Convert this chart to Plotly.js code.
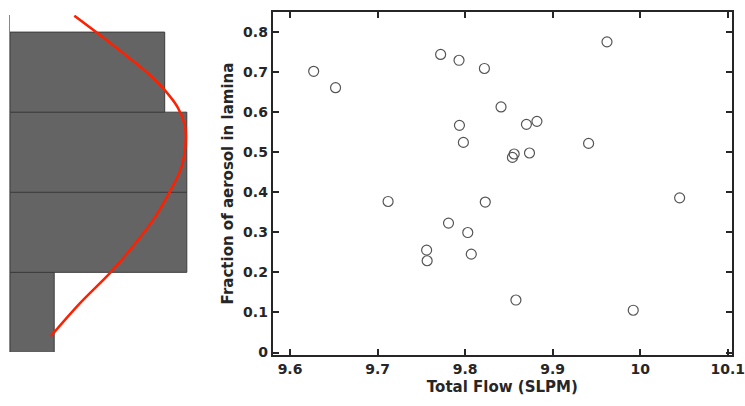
<!DOCTYPE html>
<html>
<head>
<meta charset="utf-8">
<script src="https://cdn.plot.ly/plotly-3.0.1.min.js"></script>
<style>html,body{margin:0;padding:0;background:#fff;}#chart{width:745px;height:406px;}</style>
</head>
<body>
<div id="chart"></div>
<script>
// Scatter data: total flow (SLPM) vs fraction of aerosol in lamina
const totalFlow = [9.627, 9.652, 9.772, 9.793, 9.822, 9.7935, 9.798, 9.712, 9.823, 9.781, 9.803, 9.756, 9.7566, 9.807,
                   9.962, 9.841, 9.870, 9.882, 9.856, 9.854, 9.8735, 9.941, 10.045, 9.858, 9.992];
const fraction  = [0.702, 0.661, 0.744, 0.7295, 0.709, 0.567, 0.5245, 0.377, 0.3755, 0.323, 0.2995, 0.2555, 0.229, 0.2455,
                   0.7755, 0.613, 0.5695, 0.577, 0.4955, 0.487, 0.498, 0.522, 0.386, 0.131, 0.1055];

// Marginal histogram of fraction (bin centres, counts)
const binCenters = [0.1, 0.3, 0.5, 0.7];
const binCounts  = [2, 8, 8, 7];

// Fitted curve (fraction, count)
const curveFrac  = [0.040, 0.123, 0.198, 0.256, 0.331, 0.402, 0.465, 0.531, 0.570, 0.611, 0.652, 0.694, 0.744, 0.802, 0.841];
const curveCount = [1.84, 3.17, 4.52, 5.43, 6.48, 7.24, 7.77, 7.95, 7.90, 7.60, 7.05, 6.30, 5.20, 3.85, 2.91];

const xTickVals = [9.6, 9.7, 9.8, 9.9, 10, 10.1];
const xTickText = ['9.6', '9.7', '9.8', '9.9', '10', '10.1'];
const yTickVals = [0, 0.1, 0.2, 0.3, 0.4, 0.5, 0.6, 0.7, 0.8];
const yTickText = ['0', '0.1', '0.2', '0.3', '0.4', '0.5', '0.6', '0.7', '0.8'];

const FONT = 'DejaVu Sans, Liberation Sans, Arial, sans-serif';
const INK = '#262626';

const traces = [
  {
    type: 'bar', orientation: 'h',
    y: binCenters, x: binCounts, width: 0.2,
    xaxis: 'x2', yaxis: 'y2',
    marker: {color: '#646464', line: {color: '#3c3c3c', width: 1}},
    hoverinfo: 'skip', showlegend: false
  },
  {
    type: 'scatter', mode: 'lines',
    x: curveCount, y: curveFrac,
    xaxis: 'x2', yaxis: 'y2',
    line: {color: '#ff2000', width: 2.5, shape: 'spline', smoothing: 1},
    hoverinfo: 'skip', showlegend: false
  },
  {
    type: 'scatter', mode: 'markers',
    x: totalFlow, y: fraction,
    xaxis: 'x', yaxis: 'y',
    marker: {symbol: 'circle-open', size: 10, color: '#555555', line: {width: 1.2, color: '#555555'}},
    showlegend: false
  }
];

const W = 745, H = 406, ML = 0, MR = 13, MT = 12, MB = 51;
const PW = W - ML - MR;

const layout = {
  width: W, height: H,
  margin: {l: ML, r: MR, t: MT, b: MB, pad: 0},
  paper_bgcolor: '#ffffff', plot_bgcolor: 'rgba(0,0,0,0)',
  font: {family: FONT, size: 14, color: INK},
  showlegend: false,
  bargap: 0,
  xaxis: {
    domain: [272.7 / PW, 1],
    range: [9.5802, 10.1048],
    tickvals: xTickVals, ticktext: xTickText,
    ticks: 'inside', ticklen: 6, tickwidth: 2, tickcolor: INK,
    showline: true, linewidth: 2, linecolor: INK, mirror: 'ticks',
    showgrid: false, zeroline: false,
    ticklabeloverflow: 'allow',
    tickfont: {family: FONT, size: 14, color: INK, weight: 'bold'},
    title: {text: 'Total Flow (SLPM)', font: {family: FONT, size: 15, color: INK, weight: 'bold'}, standoff: 6},
    anchor: 'y'
  },
  yaxis: {
    domain: [0, 1],
    range: [-0.00625, 0.85],
    tickvals: yTickVals, ticktext: yTickText,
    ticks: 'inside', ticklen: 6, tickwidth: 2, tickcolor: INK,
    showline: true, linewidth: 2, linecolor: INK, mirror: 'ticks',
    showgrid: false, zeroline: false,
    ticklabeloverflow: 'allow',
    tickfont: {family: FONT, size: 14, color: INK, weight: 'bold'},
    title: {text: 'Fraction of aerosol in lamina', font: {family: FONT, size: 15, color: INK, weight: 'bold'}, standoff: 6},
    anchor: 'x'
  },
  xaxis2: {
    domain: [10 / PW, 200 / PW],
    range: [0, 190 / 22.1],
    visible: false, fixedrange: true,
    anchor: 'y2'
  },
  yaxis2: {
    domain: [0.009, 0.991],
    range: [-0.00625 + 0.0075, 0.85 - 0.0075],
    showline: true, linewidth: 1, linecolor: '#888888',
    showticklabels: false, ticks: '', showgrid: false, zeroline: false,
    anchor: 'x2', fixedrange: true
  }
};

Plotly.newPlot('chart', traces, layout, {displayModeBar: false, staticPlot: true});
</script>
</body>
</html>
